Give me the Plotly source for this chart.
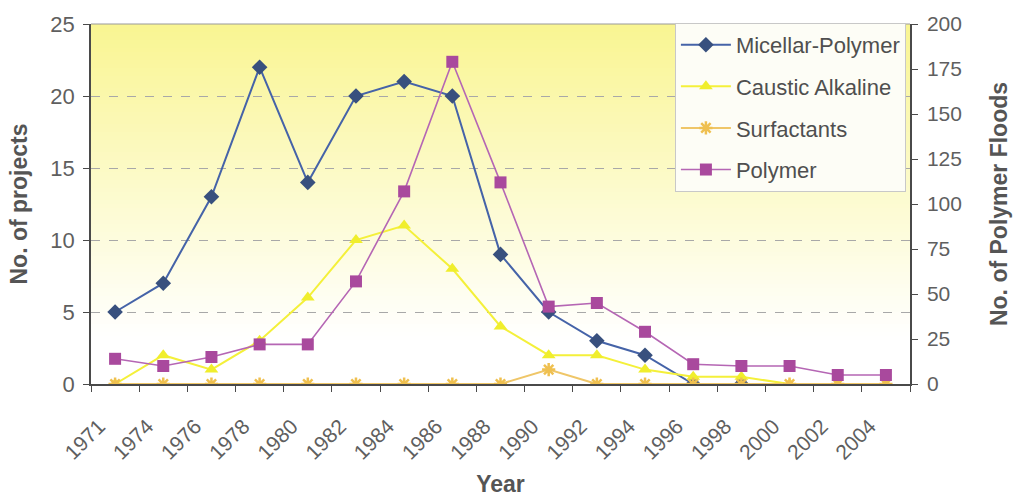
import plotly.graph_objects as go

# EOR project counts by year
years = ["1971", "1974", "1976", "1978", "1980", "1982", "1984", "1986", "1988",
         "1990", "1992", "1994", "1996", "1998", "2000", "2002", "2004"]
micellar_polymer = [5, 7, 13, 22, 14, 20, 21, 20, 9, 5, 3, 2, 0, 0, None, None, None]
caustic_alkaline = [0, 2, 1, 3, 6, 10, 11, 8, 4, 2, 2, 1, 0.5, 0.5, 0, 0, 0]
surfactants = [0, 0, 0, 0, 0, 0, 0, 0, 0, 1, 0, 0, 0, 0, 0, 0, 0]
polymer_floods = [14, 10, 15, 22, 22, 57, 107, 179, 112, 43, 45, 29, 11, 10, 10, 5, 5]

FONT = "Liberation Sans, Arial, sans-serif"
TXT = "#5f5f5f"
AXIS = "#4a4a4a"

fig = go.Figure()

fig.add_trace(go.Scatter(
    x=years, y=micellar_polymer, name="Micellar-Polymer", mode="lines+markers",
    line=dict(color="#4563a8", width=2),
    marker=dict(symbol="diamond", size=12, color="#38507e"),
    legendgroup="a"))
fig.add_trace(go.Scatter(
    x=years, y=caustic_alkaline, name="Caustic Alkaline", mode="lines+markers",
    line=dict(color="#f4f03a", width=2),
    marker=dict(symbol="triangle-up", size=12, color="#f0ee2c"),
    legendgroup="b"))
fig.add_trace(go.Scatter(
    x=years, y=surfactants, name="Surfactants", mode="lines+markers",
    line=dict(color="#efc668", width=2),
    marker=dict(symbol="asterisk-open", size=11, color="#efc050",
                line=dict(color="#efc050", width=2.5)),
    legendgroup="c"))
fig.add_trace(go.Scatter(
    x=years, y=polymer_floods, name="Polymer", mode="lines+markers", yaxis="y2",
    line=dict(color="#b566b4", width=1.6),
    marker=dict(symbol="square", size=12, color="#a9499d"),
    legendgroup="d"))

# vertical yellow-to-white gradient behind the plot area
shapes = []
n = 90
top = (249, 245, 145)
for i in range(n):
    y0 = i / n
    y1 = (i + 1) / n
    mid = (y0 + y1) / 2
    t = max(0.0, (mid - 0.12) / 0.88)
    t = t ** 1.05
    c = tuple(round(255 + (top[k] - 255) * t) for k in range(3))
    shapes.append(dict(type="rect", xref="x domain", yref="y domain",
                       x0=0, x1=1, y0=y0, y1=y1, layer="below",
                       line=dict(width=0), fillcolor="rgb(%d,%d,%d)" % c))
# top border of the plot area
shapes.append(dict(type="line", xref="x domain", yref="y domain",
                   x0=0, x1=1, y0=1, y1=1, line=dict(color="#9a9a9a", width=1.2)))

fig.update_layout(
    width=1020, height=503,
    margin=dict(l=91, r=110, t=24, b=119),
    paper_bgcolor="white", plot_bgcolor="white",
    font=dict(family=FONT, color=TXT, size=19),
    shapes=shapes,
    showlegend=True,
    legend=dict(x=0.995, xanchor="right", y=1.003, yanchor="top",
                bgcolor="rgba(253,253,246,1)", bordercolor="#c8c8c8", borderwidth=1,
                font=dict(family=FONT, size=22, color="#4f4f4f"),
                tracegroupgap=10, itemwidth=50),
    xaxis=dict(
        type="category", range=[-0.5, 16.5], automargin=False,
        showline=True, linecolor=AXIS, linewidth=1.5,
        ticks="outside", ticklen=6, tickcolor=AXIS, tickson="boundaries",
        tickangle=-45, tickfont=dict(size=21, color=TXT),
        ticklabelstandoff=20, ticklabelshift=-16,
        showgrid=False,
        title=dict(text="<b>Year</b>", font=dict(size=23, color="#555"), standoff=13)),
    yaxis=dict(
        range=[0, 25], dtick=5, automargin=False,
        showline=True, linecolor=AXIS, linewidth=1.5,
        ticks="outside", ticklen=6, tickcolor=AXIS,
        tickfont=dict(size=22, color=TXT), ticklabelstandoff=4,
        showgrid=True, gridcolor="#a8a8a8", griddash="dash", gridwidth=1,
        zeroline=False,
        title=dict(text="<b>No. of projects</b>", font=dict(size=23, color="#555"), standoff=16)),
    yaxis2=dict(
        overlaying="y", side="right", range=[0, 200], dtick=25, automargin=False,
        showline=True, linecolor=AXIS, linewidth=1.5,
        ticks="outside", ticklen=6, tickcolor=AXIS,
        tickfont=dict(size=21, color=TXT), ticklabelstandoff=5,
        showgrid=False, zeroline=False,
        title=dict(text="<b>No. of Polymer Floods</b>", font=dict(size=23, color="#555"), standoff=30)),
)

fig.write_html("out.html")
